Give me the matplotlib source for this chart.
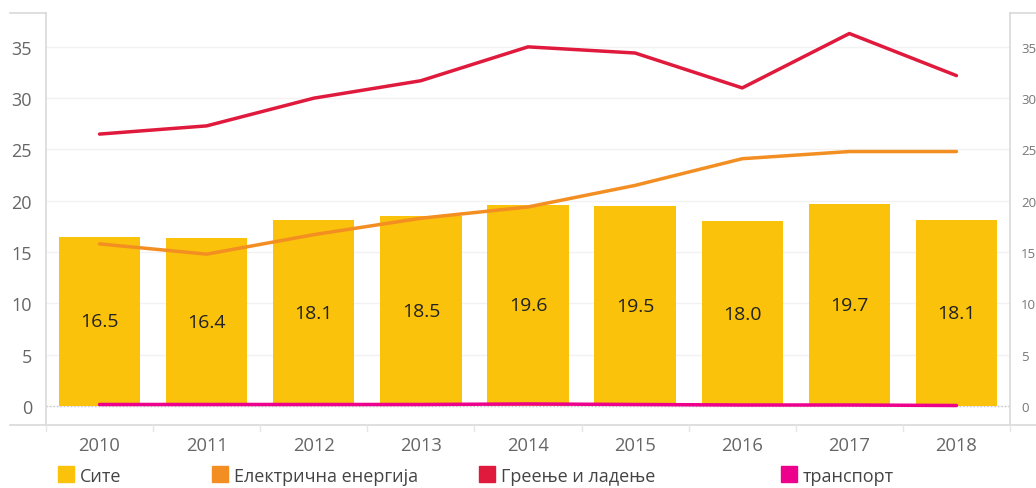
import matplotlib
matplotlib.use("Agg")
import matplotlib.pyplot as plt
from matplotlib.patches import Rectangle
from matplotlib.lines import Line2D
import numpy as np

plt.rcParams['font.family'] = ['Open Sans', 'DejaVu Sans']

years = ['2010', '2011', '2012', '2013', '2014', '2015', '2016', '2017', '2018']
site = [16.5, 16.4, 18.1, 18.5, 19.6, 19.5, 18.0, 19.7, 18.1]
elektricna = [15.8, 14.8, 16.7, 18.3, 19.4, 21.5, 24.1, 24.8, 24.8]
greenje = [26.5, 27.3, 30.0, 31.7, 35.0, 34.4, 31.0, 36.3, 32.2]
transport = [0.15, 0.15, 0.15, 0.15, 0.2, 0.15, 0.1, 0.1, 0.05]
yticks = [0, 5, 10, 15, 20, 25, 30, 35]
legend_labels = ['Сите', 'Електрична енергија', 'Греење и ладење', 'транспорт']

c_bar = '#FAC20A'
c_el = '#F38E22'
c_gr = '#E01A3C'
c_tr = '#EC008C'

W, H = 1036, 489
fig = plt.figure(figsize=(W / 100, H / 100), dpi=100)
ax = fig.add_axes([46 / W, 1 - 426 / H, (1010 - 46) / W, (426 - 14) / H])

x = np.arange(len(years))
ax.set_xlim(-0.5, len(years) - 0.5)
ax.set_ylim(-1.85, 38.3)

for t in yticks:
    ax.axhline(t, color='#f2f2f2', lw=1, zorder=0)
ax.axhline(0, color='#c8c8c8', lw=1, ls=(0, (1, 1.5)), zorder=0.5)

bars = ax.bar(x, site, width=0.76, color=c_bar, zorder=1)
for xi, v in zip(x, site):
    ax.text(xi, v / 2, f'{v:.1f}', ha='center', va='center', fontsize=14, color='#222222', zorder=5)

ax.plot(x, elektricna, color=c_el, lw=2.5, zorder=3, solid_capstyle='round')
ax.plot(x, greenje, color=c_gr, lw=2.5, zorder=3, solid_capstyle='round')
ax.plot(x, transport, color=c_tr, lw=2.5, zorder=3, solid_capstyle='round')

for s in ['top', 'bottom', 'right']:
    ax.spines[s].set_visible(False)
ax.spines['left'].set_color('#d9d9d9')
ax.spines['left'].set_linewidth(1.2)

ax.set_yticks(yticks)
ax.set_yticklabels([str(t) for t in yticks], fontsize=13, color='#666666')
ax.tick_params(axis='y', length=0, pad=10)
ax.set_xticks(x)
ax.set_xticklabels(years, fontsize=13.2, color='#666666')
ax.tick_params(axis='x', length=0, pad=8)

ax2 = ax.twinx()
ax2.set_ylim(ax.get_ylim())
ax2.set_yticks(yticks)
ax2.set_yticklabels([str(t) for t in yticks], fontsize=9.5, color='#777777')
ax2.tick_params(axis='y', length=0, pad=8)
for s in ['top', 'bottom', 'left']:
    ax2.spines[s].set_visible(False)
ax2.spines['right'].set_color('#d9d9d9')
ax2.spines['right'].set_linewidth(1.2)

# frame lines in pixel coordinates (figure fraction)
def hline(x0, x1, y):
    fig.add_artist(Line2D([x0 / W, x1 / W], [1 - y / H, 1 - y / H], color='#d9d9d9', lw=1.2))

def vline(xp, y0, y1):
    fig.add_artist(Line2D([xp / W, xp / W], [1 - y0 / H, 1 - y1 / H], color='#e6e6e6', lw=1))

hline(10, 1036, 426)
hline(10, 46, 14)
hline(1010, 1036, 14)
for k in range(len(years) + 1):
    xp = 46 + k * (1010 - 46) / len(years)
    vline(xp, 426, 432)

# legend
leg_x = [58, 212, 479, 781]
leg_c = [c_bar, c_el, c_gr, c_tr]
for lx, lc, lab in zip(leg_x, leg_c, legend_labels):
    fig.add_artist(Rectangle((lx / W, 1 - 483 / H), 16 / W, 16 / H, color=lc, transform=fig.transFigure))
    fig.text((lx + 22) / W, 1 - 477 / H, lab, fontsize=13, color='#444444', va='center', ha='left')

fig.savefig('out.png', dpi=100)
